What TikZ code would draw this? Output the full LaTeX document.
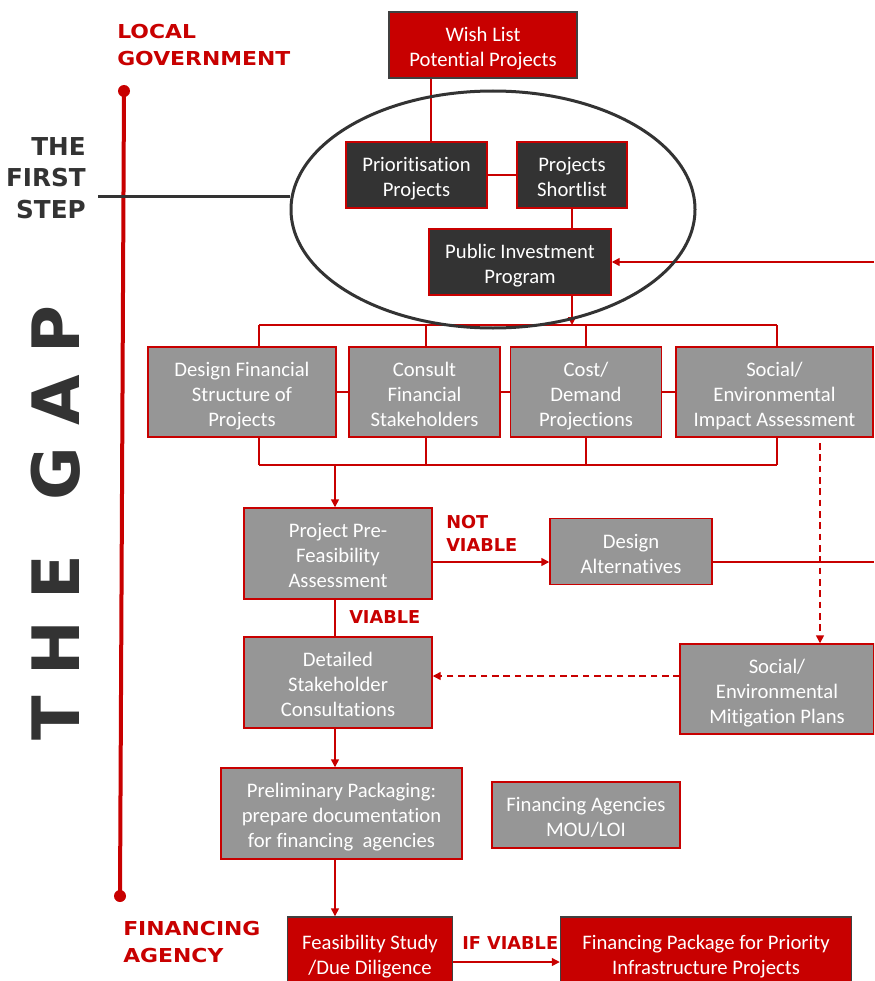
\documentclass[tikz,border=0pt]{standalone}
\usepackage{fontspec}
\setmainfont{Carlito}[Ligatures={NoCommon}]
\newfontfamily\labfont{DejaVu Sans}
\newfontfamily\labwide[FakeStretch=1.14]{DejaVu Sans}
\usetikzlibrary{arrows.meta,shapes.geometric,calc}
\definecolor{cred}{RGB}{200,0,0}
\definecolor{cdark}{RGB}{51,51,51}
\definecolor{cgray}{RGB}{150,150,150}
\definecolor{cedge}{RGB}{64,64,64}
\newcommand{\bt}[1]{\raisebox{-3pt}[\height][\depth]{\begin{tabular}{@{}c@{}}#1\end{tabular}}}
\tikzset{
  box/.style={rectangle, draw=cred, line width=1.1pt, inner sep=0pt,
    text=white, font=\fontsize{15.5}{18.75}\selectfont},
  redbox/.style={box, fill=cred, draw=cedge},
  darkbox/.style={box, fill=cdark},
  graybox/.style={box, fill=cgray},
  conn/.style={draw=cred, line width=1.1pt},
  arr/.style={conn, -{Triangle[length=6pt,width=6pt]}},
  darr/.style={arr, dash pattern=on 5pt off 3.5pt},
  redlab/.style={text=cred, inner sep=0pt, font=\labwide\bfseries\fontsize{14.4}{20.25}\selectfont, align=left},
  smalllab/.style={text=cred, inner sep=0pt, font=\labfont\bfseries\fontsize{13.3}{17.25}\selectfont, align=left},
}
\begin{document}
\begin{tikzpicture}[x=0.75pt,y=-0.75pt]
\useasboundingbox (0,0) rectangle (874,981);
\clip (0,0) rectangle (874,981);

% side labels
\node[redlab, anchor=west] (lg) at (117,45.5) {LOCAL\\GOVERNMENT};
\node[redlab, anchor=west] (fag) at (123,942) {FINANCING\\AGENCY};
\node[text=cdark, inner sep=0pt, align=right, anchor=east,
  font=\labfont\bfseries\fontsize{18.5}{23.7}\selectfont] (tfs) at (86,178) {THE\\FIRST\\STEP};
\node[text=cdark, inner sep=0pt, rotate=90, font=\labfont\bfseries\fontsize{49}{50}\selectfont]
  (gap) at (56,523.3) {T\hspace{15.75pt}H\hspace{15.75pt}E\hspace{41pt}G\hspace{15.75pt}A\hspace{15.75pt}P};

% red timeline
\coordinate (tl1) at (124,91);
\coordinate (tl2) at (120,896);
\draw[cred, line width=3pt] (tl1) -- (tl2);
\fill[cred] (tl1) circle[radius=4.5pt];
\fill[cred] (tl2) circle[radius=4.5pt];

% boxes
\node[redbox, minimum width=141pt, minimum height=49.5pt] (wish) at (483,45) {\bt{Wish List\\Potential Projects}};
\node[darkbox, minimum width=105.75pt, minimum height=49.5pt] (prio) at (416.5,175) {\bt{Prioritisation\\Projects}};
\node[darkbox, minimum width=82.5pt, minimum height=49.5pt] (short) at (572,175) {\bt{Projects\\Shortlist}};
\node[darkbox, minimum width=136.5pt, minimum height=49.5pt] (pip) at (520,262) {\bt{Public Investment\\Program}};

\node[graybox, minimum width=141pt, minimum height=67.5pt] (dfs) at (242,392) {\bt{Design Financial\\Structure of\\Projects}};
\node[graybox, minimum width=113.25pt, minimum height=67.5pt] (cfs) at (424.5,392) {\bt{Consult\\Financial\\Stakeholders}};
\node[graybox, minimum width=113.25pt, minimum height=67.5pt] (cdp) at (586,392) {\bt{Cost/\\Demand\\Projections}};
\node[graybox, minimum width=147.75pt, minimum height=67.5pt] (seia) at (774.5,392) {\bt{Social/\\Environmental\\Impact Assessment}};

\node[graybox, minimum width=141pt, minimum height=68.25pt] (ppfa) at (338,553.5) {\bt{Project Pre-\\Feasibility\\Assessment}};
\node[graybox, minimum width=121.5pt, minimum height=49.5pt] (da) at (631,551.5) {\bt{Design\\Alternatives}};
\node[graybox, minimum width=141pt, minimum height=68.25pt] (dsc) at (338,682.5) {\bt{Detailed\\Stakeholder\\Consultations}};
\node[graybox, minimum width=145.5pt, minimum height=67.5pt] (semp) at (777,689) {\bt{Social/\\Environmental\\Mitigation Plans}};
\node[graybox, minimum width=180.75pt, minimum height=68.25pt] (pp) at (341.5,813.5) {\bt{Preliminary Packaging:\\prepare documentation\\for financing\ \ agencies}};
\node[graybox, minimum width=141pt, minimum height=49.5pt] (fa) at (586,815) {\bt{Financing Agencies\\MOU/LOI}};
\node[redbox, minimum width=123.75pt, minimum height=54pt] (fs) at (370,953) {\bt{Feasibility Study\\/Due Diligence}};
\node[redbox, minimum width=218.25pt, minimum height=54pt] (fpk) at (706,953) {\bt{Financing Package for Priority\\Infrastructure Projects}};

% top connectors
\coordinate (w1) at ([xshift=10.9pt]prio.north);
\draw[conn] (w1) -- (w1 |- wish.south);
\draw[conn] (prio.east) -- (short.west);
\draw[conn] (short.south) -- (short.south |- pip.north);
\coordinate (fbin) at (874,262);
\draw[arr] (fbin) -- (fbin -| pip.east);

% top bus
\coordinate (bt0) at (572,325);
\coordinate (bt1) at (259,325);
\coordinate (bt2) at (426,325);
\coordinate (bt3) at (586,325);
\coordinate (bt4) at (777,325);
\draw[conn] (bt1) -- (bt4);
\draw[conn] (bt1) -- (bt1 |- dfs.north);
\draw[conn] (bt2) -- (bt2 |- cfs.north);
\draw[conn] (bt3) -- (bt3 |- cdp.north);
\draw[conn] (bt4) -- (bt4 |- seia.north);
\draw[arr] (bt0 |- pip.south) -- (bt0);

% row links
\draw[conn] (dfs.east) -- (cfs.west);
\draw[conn] (cfs.east) -- (cdp.west);
\draw[conn] (cdp.east) -- (seia.west);

% bottom bus
\coordinate (bb1) at (259,465);
\coordinate (bb2) at (426,465);
\coordinate (bb3) at (586,465);
\coordinate (bb4) at (777,465);
\coordinate (bb0) at (335,465);
\draw[conn] (bb1) -- (bb4);
\draw[conn] (bb1) -- (bb1 |- dfs.south);
\draw[conn] (bb2) -- (bb2 |- cfs.south);
\draw[conn] (bb3) -- (bb3 |- cdp.south);
\draw[conn] (bb4) -- (bb4 |- seia.south);
\draw[arr] (bb0) -- (bb0 |- ppfa.north);

% dashed from impact to mitigation
\coordinate (ds1) at (820,443);
\draw[darr] (ds1) -- (ds1 |- semp.north);
\coordinate (dm) at (680,676);
\draw[darr] (dm) -- (dm -| dsc.east);

% not viable
\coordinate (nv) at (432,562);
\draw[arr] (nv) -- (nv -| da.west);
\coordinate (fbout) at (874,562);
\draw[conn] (fbout -| da.east) -- (fbout);
\node[smalllab, anchor=west] (nvl) at (446,533.5) {NOT\\VIABLE};

% viable chain
\coordinate (vc) at (335,600);
\draw[conn] (vc |- ppfa.south) -- (vc |- dsc.north);
\node[smalllab, anchor=west] (vl) at (349,617) {VIABLE};
\draw[arr] (vc |- dsc.south) -- (vc |- pp.north);
\draw[arr] (vc |- pp.south) -- (vc |- fs.north);

% if viable
\coordinate (iv) at (453,962);
\draw[arr] (iv) -- (iv -| fpk.west);
\node[smalllab, anchor=west] (ivl) at (462,943) {IF VIABLE};

% first step ellipse
\node[ellipse, draw=cdark, line width=2.25pt, minimum width=303pt, minimum height=177.75pt, inner sep=0pt] (step1) at (493,209.5) {};
\coordinate (sl) at (98,196.7);
\draw[cdark, line width=2.5pt] (sl) -- (sl -| step1.west);
\end{tikzpicture}
\end{document}
